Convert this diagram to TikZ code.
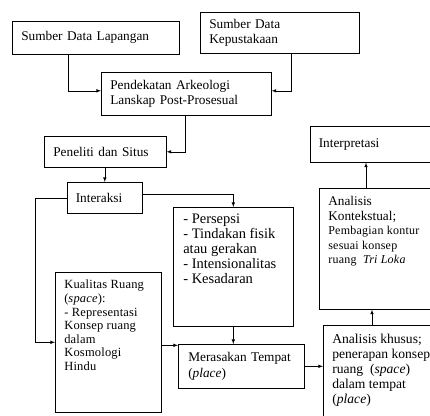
\documentclass[tikz,border=0pt]{standalone}
\usepackage{fontspec}
\setmainfont{Liberation Serif}
\usetikzlibrary{calc}

\tikzset{
  box/.style={draw, anchor=north west, inner xsep=9pt, inner ysep=0pt, align=left,
    font=\fontsize{13.3}{15.5}\selectfont},
  txt/.style={anchor=north west, inner sep=0pt, align=left,
    font=\fontsize{13.3}{15.3}\selectfont},
  listtxt/.style={txt, font=\fontsize{14.5}{15}\selectfont},
  smalltxt/.style={txt, font=\fontsize{12.5}{13.6}\selectfont\addfontfeature{LetterSpace=1.5}},
}

\begin{document}
\begin{tikzpicture}[x=1pt, y=-1pt, line width=0.6pt, >=latex]
  \useasboundingbox (0,0) rectangle (430,415);
  \clip (0,0) rectangle (430,415);
  % boxes
  \node(lap)[box,minimum width=167pt,minimum height=33pt,text width=149pt] at (12,21) {Sumber Data Lapangan};
  \node(kep)[box,minimum width=159pt,minimum height=41pt,text width=141pt] at (200,12) {Sumber Data\\Kepustakaan};
  \node(pend)[box,minimum width=170pt,minimum height=43pt,text width=152pt] at (101,72) {Pendekatan Arkeologi\\Lanskap Post-Prosesual};
  \node(pen)[box,minimum width=122pt,minimum height=31pt,text width=104pt] at (44,136) {Peneliti dan Situs};
  \node(int)[box,minimum width=75pt,minimum height=31pt,text width=58pt,inner xsep=8pt] at (67,182) {Interaksi};
  \node(list)[box,minimum width=120pt,minimum height=119pt] at (173,207) {};
  \node(kual)[box,minimum width=106pt,minimum height=140pt] at (55,272) {};
  \node(meras)[box,minimum width=125pt,minimum height=44pt,text width=106pt,inner xsep=10pt] at (178,344) {Merasakan Tempat\\(\textit{place})};
  \node(khusus)[box,minimum width=150pt,minimum height=120pt] at (323,325) {};
  \node(konteks)[box,minimum width=150pt,minimum height=121pt] at (319,188) {};
  \node(interp)[box,minimum width=150pt,minimum height=36pt,text width=133pt,inner xsep=8pt] at (310,126) {Interpretasi};
  % texts
  \node(listT)[listtxt] at ([shift={(10pt,-7pt)}]list.north west) {- Persepsi\\- Tindakan fisik\\atau gerakan\\- Intensionalitas\\- Kesadaran};
  \node(kualT)[smalltxt] at ([shift={(9pt,-8pt)}]kual.north west) {Kualitas Ruang\\(\textit{space}):\\- Representasi\\Konsep ruang\\dalam\\Kosmologi\\Hindu};
  \node(khususT)[txt,font=\fontsize{13.6}{15}\selectfont] at ([shift={(9pt,-9pt)}]khusus.north west) {Analisis khusus;\\penerapan konsep\\ruang~ (\textit{space})\\dalam tempat\\(\textit{place})};
  \node(kontT)[txt] at ([shift={(9pt,-8pt)}]konteks.north west) {Analisis\\Kontekstual;};
  \node(kontS)[smalltxt,font=\fontsize{12}{14.5}\selectfont\addfontfeature{LetterSpace=2}] at ([shift={(0pt,-3pt)}]kontT.south west) {Pembagian kontur\\sesuai konsep\\ruang~ \textit{Tri Loka}};
  % arrows
  \draw [->] ([xshift=56pt]lap.south west) |- ([yshift=3pt]pend.west);
  \draw [->] ([xshift=91pt]kep.south west) |- ([yshift=3pt]pend.east);
  \draw [->] ([xshift=84pt]pend.south west) |- (pen.east);
  \draw [->] (int.north |- pen.south) -- (int.north);
  \draw [->] ([yshift=4pt]int.east) -| (list.north);
  \draw [->] (int.west) -- ++(-32,0) |- (kual.west);
  \draw [->] (list.south) -- (list.south |- meras.north);
  \draw [->] ([yshift=-3pt]kual.east) -- ([yshift=-3pt]kual.east -| meras.west);
  \draw [->] (meras.east) -- (meras.east -| khusus.west);
  \draw [->] ([xshift=49pt]khusus.north west) -- ([xshift=49pt]khusus.north west |- konteks.south);
  \draw [->] ([xshift=47pt]konteks.north west) -- ([xshift=47pt]konteks.north west |- interp.south);
\end{tikzpicture}
\end{document}
